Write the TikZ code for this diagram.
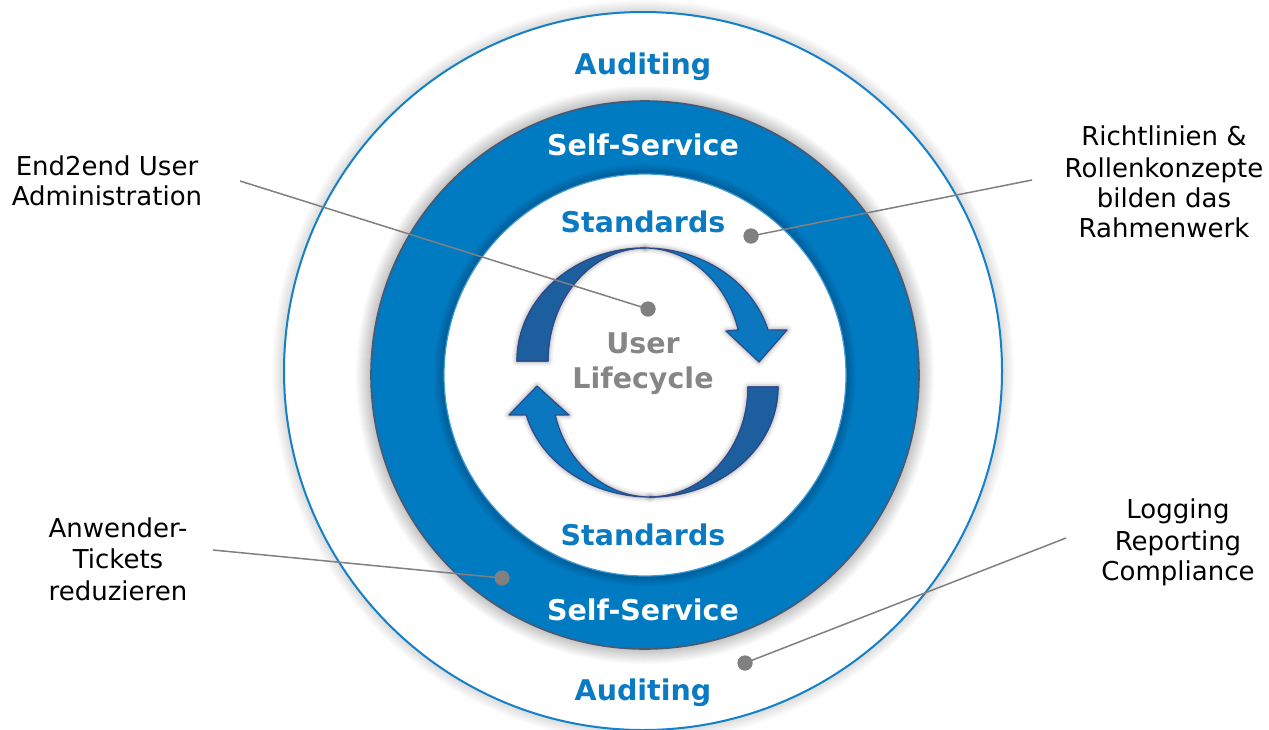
\documentclass[tikz,border=0pt]{standalone}
\usepackage{fontspec}
\setmainfont{DejaVu Sans}
\definecolor{ringblue}{HTML}{007AC1}
\definecolor{txtblue}{HTML}{0A7AC2}
\definecolor{ringedge}{HTML}{4A5870}
\definecolor{outeredge}{HTML}{1380C8}
\definecolor{inneredge}{HTML}{3D9AD8}
\definecolor{arrlight}{HTML}{0B77BF}
\definecolor{arrdark}{HTML}{1D5E9E}
\definecolor{arredge}{HTML}{2C4A8A}
\definecolor{lifegray}{HTML}{868686}
\definecolor{leadgray}{HTML}{808080}
\tikzset{
  ringtext/.style={anchor=base, font=\bfseries\fontsize{28.5}{30}\selectfont, inner sep=0pt},
  lbl/.style={anchor=base, font=\fontsize{26}{31}\selectfont, text=black, inner sep=0pt},
  arrowpart/.style={draw=arredge, line width=1.2pt, line join=round},
  ashadow/.style={
    preaction={draw=black, draw opacity=0.05, line width=10pt, line join=round, fill opacity=0},
    preaction={draw=black, draw opacity=0.07, line width=6pt, line join=round, fill opacity=0},
    preaction={draw=black, draw opacity=0.08, line width=3pt, line join=round, fill opacity=0}},
  leader/.style={draw=leadgray, line width=1.5pt},
  dotnode/.style={circle, fill=leadgray, minimum size=15pt, inner sep=0pt}
}
\begin{document}
\begin{tikzpicture}[x=1pt,y=-1pt]
\useasboundingbox (0,0) rectangle (1269,729);
\fill[white] (0,0) rectangle (1269,729);

% outer circle with soft shadow
\foreach \i in {1,...,12} \fill[black, opacity=0.012] (643,371) circle[radius=359pt+\i pt];
\fill[white] (643,371) circle[radius=359pt];
\draw[outeredge, line width=2pt] (643,371) circle[radius=359pt];

% blue ring
\foreach \i in {1,...,15} \fill[black, opacity=0.014] (645,375) circle[radius=274pt+\i pt];
\fill[ringblue] (645,375) circle[radius=274pt];
\draw[ringedge, line width=1.6pt] (645,375) circle[radius=274pt];
\foreach \i in {1,...,10} \fill[black, opacity=0.018] (645,375) circle[radius=201pt+\i pt];
\fill[white] (645,375) circle[radius=201pt];
\draw[inneredge, line width=1.2pt] (645,375) circle[radius=201pt];

% top cycle arrow
\path[arrowpart, fill=arrdark, ashadow] (517,361)
  arc[start angle=180, end angle=270, x radius=128, y radius=113]
  arc[start angle=270, end angle=180, x radius=97, y radius=113] -- cycle;
\path[arrowpart, fill=arrlight, ashadow] (645,248)
  arc[start angle=270, end angle=344, x radius=128, y radius=113]
  -- (787,330) -- (759,362) -- (726,331) -- (738.2,329.9)
  arc[start angle=344, end angle=270, x radius=97, y radius=113] -- cycle;

% bottom cycle arrow
\path[arrowpart, fill=arrdark, ashadow] (778,387)
  arc[start angle=0, end angle=90, x radius=128, y radius=110]
  arc[start angle=90, end angle=0, x radius=98, y radius=110] -- cycle;
\path[arrowpart, fill=arrlight, ashadow] (650,497)
  arc[start angle=90, end angle=165.3, x radius=128, y radius=110]
  -- (509,415) -- (537,386) -- (569,415) -- (555.2,414.9)
  arc[start angle=165.3, end angle=90, x radius=98, y radius=110] -- cycle;
% redraw dark parts' seam over shadow strokes
\path[arrowpart, fill=arrdark] (517,361)
  arc[start angle=180, end angle=270, x radius=128, y radius=113]
  arc[start angle=270, end angle=180, x radius=97, y radius=113] -- cycle;
\path[arrowpart, fill=arrdark] (778,387)
  arc[start angle=0, end angle=90, x radius=128, y radius=110]
  arc[start angle=90, end angle=0, x radius=98, y radius=110] -- cycle;

% ring texts
\node[ringtext, text=txtblue] (aud1) at (643,74) {Auditing};
\node[ringtext, text=white] (ss1) at (643,155) {Self-Service};
\node[ringtext, text=txtblue] (st1) at (643,232) {Standards};
\node[ringtext, text=lifegray] (ul1) at (643,353) {User};
\node[ringtext, text=lifegray] (ul2) at (643,388) {Lifecycle};
\node[ringtext, text=txtblue] (st2) at (643,545) {Standards};
\node[ringtext, text=white] (ss2) at (643,620) {Self-Service};
\node[ringtext, text=txtblue] (aud2) at (643,700) {Auditing};

% side labels
\node[lbl] (la1) at (107,175) {End2end User};
\node[lbl] (la2) at (107,205) {Administration};
\node[lbl] (lb1) at (118,537) {Anwender-};
\node[lbl] (lb2) at (118,568) {Tickets};
\node[lbl] (lb3) at (118,600) {reduzieren};
\node[lbl] (ra1) at (1164,145) {Richtlinien \&};
\node[lbl] (ra2) at (1164,177) {Rollenkonzepte};
\node[lbl] (ra3) at (1164,207) {bilden das};
\node[lbl] (ra4) at (1164,237) {Rahmenwerk};
\node[lbl] (rb1) at (1178,518) {Logging};
\node[lbl] (rb2) at (1178,550) {Reporting};
\node[lbl] (rb3) at (1178,580) {Compliance};

% leader lines and dots
\coordinate (c1) at (240,181);
\coordinate (c2) at (1032,180);
\coordinate (c3) at (213,550);
\coordinate (c4) at (1066,538);
\node[dotnode] (d1) at (648,309) {};
\node[dotnode] (d2) at (751,236) {};
\node[dotnode] (d3) at (502,578) {};
\node[dotnode] (d4) at (745,663) {};
\draw[leader] (c1) -- (d1.center);
\draw[leader] (c2) -- (d2.center);
\draw[leader] (c3) -- (d3.center);
\draw[leader] (c4) -- (d4.center);
\node[dotnode] at (d1) {};
\node[dotnode] at (d2) {};
\node[dotnode] at (d3) {};
\node[dotnode] at (d4) {};
\end{tikzpicture}
\end{document}
